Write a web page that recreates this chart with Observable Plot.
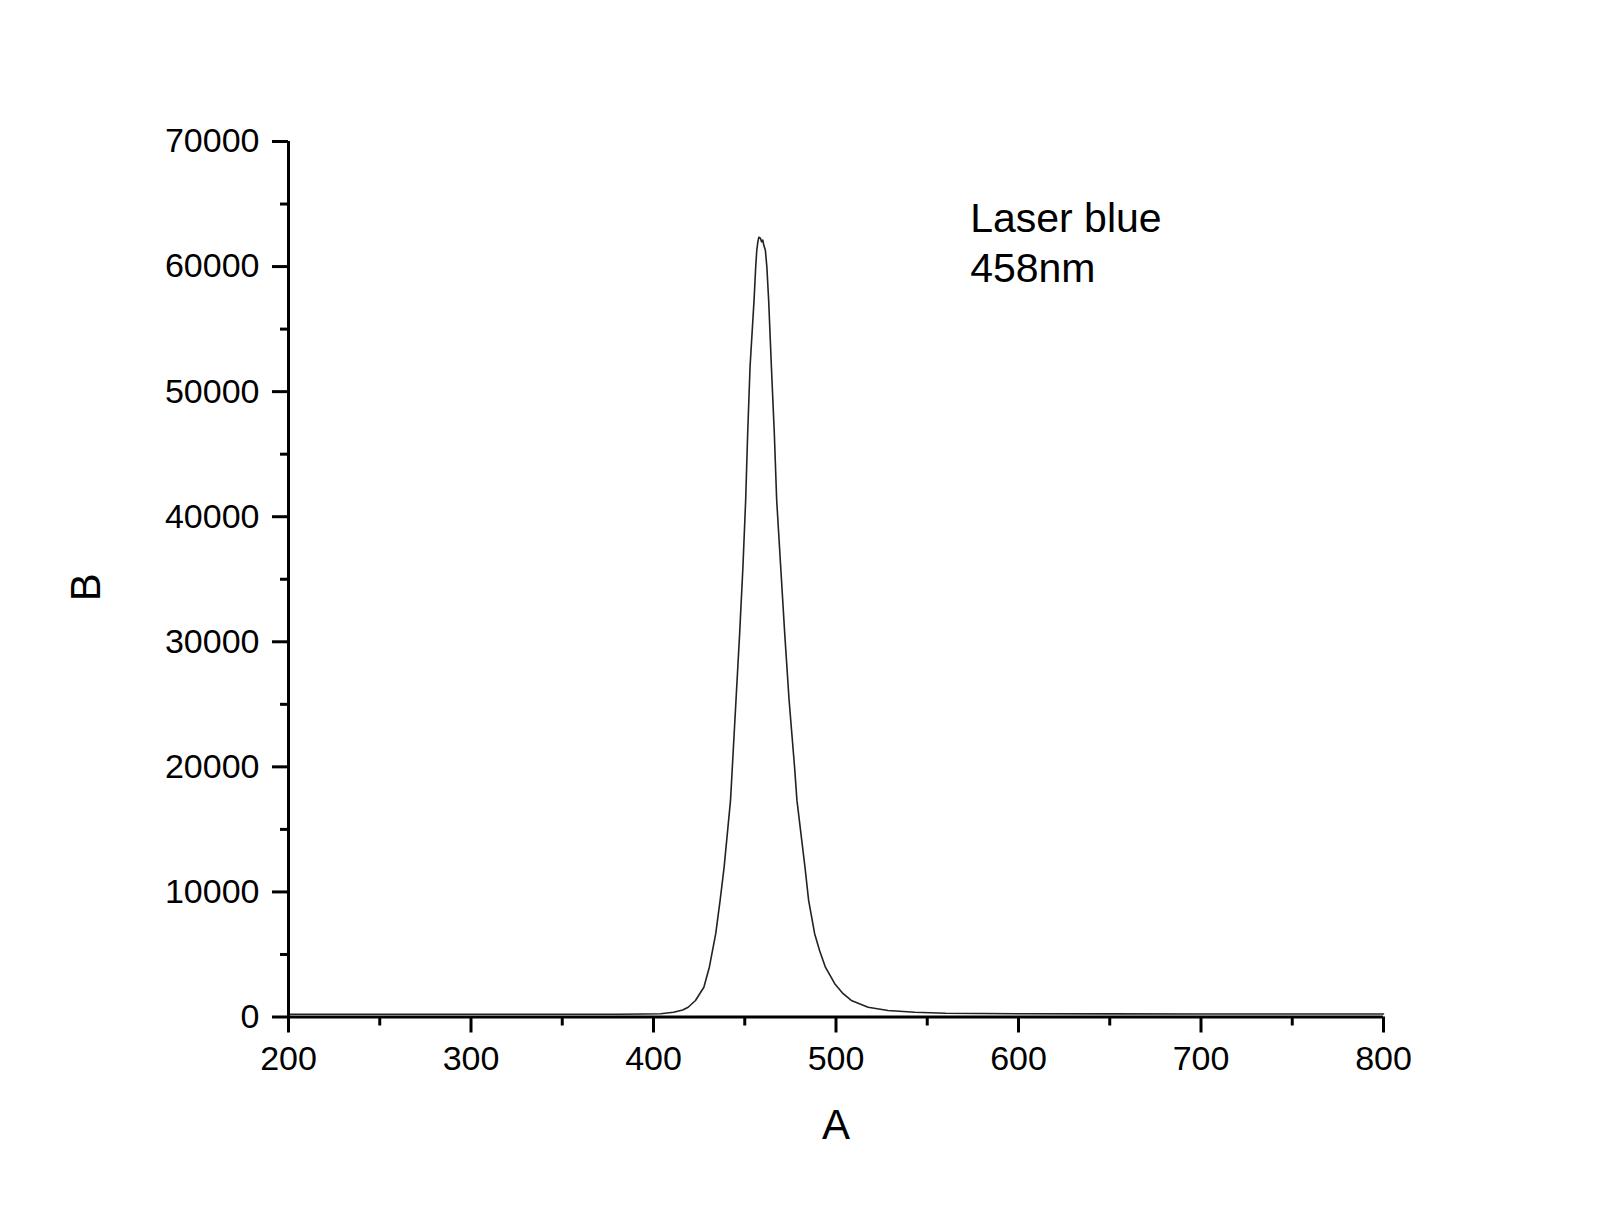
<!DOCTYPE html>
<html>
<head>
<meta charset="utf-8">
<script src="https://cdn.jsdelivr.net/npm/d3@7"></script>
<script src="https://cdn.jsdelivr.net/npm/@observablehq/plot@0.6"></script>
<style>
  html, body { margin: 0; padding: 0; background: #fff; }
</style>
</head>
<body>
<div id="chart"></div>
<script>
// Wavelength (A) and intensity (B)
const wavelength = [200, 250, 300, 350, 380, 395, 404, 411, 416, 419, 423, 427.6, 430.6, 434.1, 436.5, 438.7, 442.2, 445.2, 447.2, 449.0, 450.5, 451.6, 452.9, 455.1, 456.0, 456.6, 457.2, 457.7, 458.6, 459.2, 459.9, 460.4, 461.3, 462.1, 463.1, 464.6, 466.2, 467.5, 469.7, 471.9, 474.3, 477.3, 478.6, 483.0, 485.0, 488.3, 491.0, 494.2, 499.3, 503.9, 508.4, 517.6, 528.5, 543.2, 560, 600, 650, 700, 750, 800];
const intensity  = [220, 220, 220, 220, 215, 235, 260, 380, 560, 780, 1320, 2380, 3980, 6660, 9320, 11980, 17320, 25320, 30650, 35980, 41320, 46660, 51990, 57320, 59980, 61320, 62000, 62340, 62260, 61990, 62120, 61720, 61300, 60000, 57320, 51990, 46660, 41320, 35980, 30650, 25320, 19980, 17320, 11980, 9320, 6660, 5320, 3980, 2660, 1860, 1320, 780, 520, 380, 300, 260, 250, 240, 240, 240];

const xMajorTicks = [200, 300, 400, 500, 600, 700, 800];
const xMinorTicks = [250, 350, 450, 550, 650, 750];
const yMajorTicks = [0, 10000, 20000, 30000, 40000, 50000, 60000, 70000];
const yMinorTicks = [5000, 15000, 25000, 35000, 45000, 55000, 65000];
const xLabel = "A";
const yLabel = "B";
const annotation = ["Laser blue\n458nm"];
const annotationAt = {x: 573.5, y: 58780};

const data = wavelength.map((w, i) => ({A: w, B: intensity[i]}));

const font = "Liberation Sans, Arial, sans-serif";

const chart = Plot.plot({
  width: 1605,
  height: 1218,
  marginLeft: 288,
  marginRight: 222,
  marginTop: 141,
  marginBottom: 201.5,
  style: {fontFamily: font, fontSize: "34px", background: "#fff", color: "#000"},
  x: {domain: [200, 800]},
  y: {domain: [0, 70000]},
  marks: [
    Plot.line(data, {x: "A", y: "B", stroke: "#222", strokeWidth: 1.6}),
    Plot.ruleX([200], {y1: 0, y2: 70000, stroke: "#000", strokeWidth: 3}),
    Plot.ruleY([0], {x1: 200, x2: 800, stroke: "#000", strokeWidth: 3}),
    Plot.axisX({ticks: xMajorTicks, tickSize: 16, tickPadding: 13, strokeWidth: 3, label: null, fontSize: 34, tickFormat: d => String(d)}),
    Plot.axisX({ticks: xMinorTicks, tickSize: 9, strokeWidth: 3, text: null, label: null}),
    Plot.axisY({ticks: yMajorTicks, tickSize: 16, tickPadding: 13, strokeWidth: 3, label: null, fontSize: 34, tickFormat: d => String(d)}),
    Plot.axisY({ticks: yMinorTicks, tickSize: 8, strokeWidth: 3, text: null, label: null}),
    Plot.text([xLabel], {frameAnchor: "bottom", dy: 109, text: d => d, fontSize: 42, lineAnchor: "middle", fill: "#000"}),
    Plot.text([yLabel], {frameAnchor: "left", dx: -202, dy: 22, text: d => d, fontSize: 42, rotate: -90, lineAnchor: "middle", fill: "#000"}),
    Plot.text(annotation, {x: () => annotationAt.x, y: () => annotationAt.y, text: d => d, fontSize: 41, textAnchor: "start", lineAnchor: "bottom", lineHeight: 1.22, fill: "#000"})
  ]
});
document.getElementById("chart").appendChild(chart);
</script>
</body>
</html>
